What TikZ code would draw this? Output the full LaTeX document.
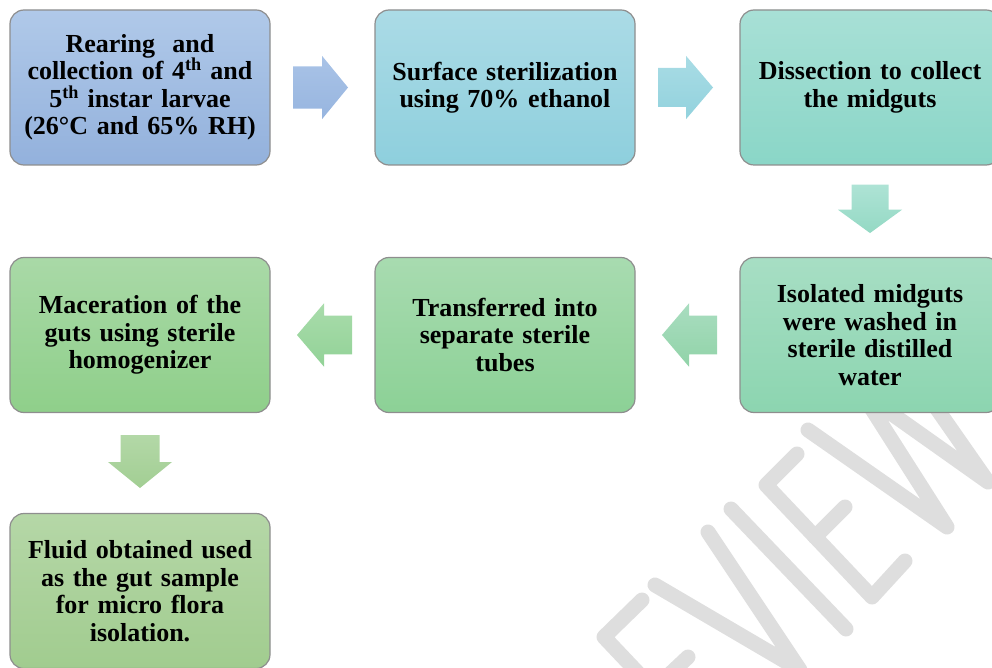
\documentclass[tikz,border=0pt]{standalone}
\usepackage{fontspec}
\setmainfont{Liberation Serif}
\usetikzlibrary{calc}
\definecolor{boxline}{HTML}{8E8E8E}
\definecolor{wmark}{HTML}{DEDEDE}
\definecolor{bat}{HTML}{B0C9E9}\definecolor{bab}{HTML}{93B1DC}
\definecolor{bbt}{HTML}{ABDBE6}\definecolor{bbb}{HTML}{8ECFDD}
\definecolor{bct}{HTML}{A8E0D6}\definecolor{bcb}{HTML}{8AD6C7}
\definecolor{bdt}{HTML}{A7DEC4}\definecolor{bdb}{HTML}{8CD5B0}
\definecolor{bet}{HTML}{A8DBB0}\definecolor{beb}{HTML}{8CD196}
\definecolor{bft}{HTML}{A9D9A7}\definecolor{bfb}{HTML}{8FCF8A}
\definecolor{bgt}{HTML}{B5D7A7}\definecolor{bgb}{HTML}{A1CC8F}
\definecolor{a1t}{HTML}{A9C3E7}\definecolor{a1b}{HTML}{97B5DF}
\definecolor{a2t}{HTML}{A9DCE5}\definecolor{a2b}{HTML}{92D2DD}
\definecolor{a3t}{HTML}{AEE3D5}\definecolor{a3b}{HTML}{94D9C4}
\definecolor{a4t}{HTML}{A9DDC0}\definecolor{a4b}{HTML}{91D3A8}
\definecolor{a5t}{HTML}{A9DCAB}\definecolor{a5b}{HTML}{92D297}
\definecolor{a6t}{HTML}{B3D8A7}\definecolor{a6b}{HTML}{A2CE93}
\tikzset{
  stepbox/.style={rounded corners=14pt, minimum width=260pt, minimum height=155pt,
    draw=boxline, line width=1.2pt, align=center, text width=250pt, inner sep=0pt,
    font=\bfseries\fontsize{26}{27.5}\selectfont},
  wm/.style={draw=wmark, line width=15pt, line cap=round, line join=round},
}
\begin{document}
\begin{tikzpicture}[x=1pt,y=1pt]
\useasboundingbox (0,0) rectangle (992,-668);
\clip (0,0) rectangle (992,-668);
% watermark
\draw[wm] (642,-600) -- (604,-637) -- (710,-749) -- (745,-712);
\draw[wm] (654,-689) -- (688,-657);
\draw[wm] (655,-585) -- (800,-670) -- (708,-532);
\draw[wm] (731,-509) -- (846,-629);
\draw[wm] (797,-454) -- (766,-485) -- (872,-597) -- (905,-561);
\draw[wm] (815,-537) -- (845,-507);
\draw[wm] (808,-430) -- (947,-527) -- (861,-392) -- (988,-482) -- (891,-343);
% boxes
\node[stepbox, top color=bat, bottom color=bab] (b1) at (140,-87.5)
  {Rearing\ \ and\\collection of 4\textsuperscript{th} and\\5\textsuperscript{th} instar larvae\\(26°C and 65\% RH)};
\node[stepbox, top color=bbt, bottom color=bbb] (b2) at (505,-87.5)
  {Surface sterilization\\using 70\% ethanol};
\node[stepbox, top color=bct, bottom color=bcb] (b3) at (870,-87.5)
  {Dissection to collect\\the midguts};
\node[stepbox, top color=bdt, bottom color=bdb] (b4) at (870,-335)
  {Isolated midguts\\were washed in\\sterile distilled\\water};
\node[stepbox, top color=bet, bottom color=beb] (b5) at (505,-335)
  {Transferred into\\separate sterile\\tubes};
\node[stepbox, top color=bft, bottom color=bfb] (b6) at (140,-335)
  {Maceration of the\\guts using sterile\\homogenizer};
\node[stepbox, top color=bgt, bottom color=bgb] (b7) at (140,-591)
  {Fluid obtained used\\as the gut sample\\for micro flora\\isolation.};
% arrow anchors
\coordinate (m12) at ($(b1.east)!0.5!(b2.west)$);
\coordinate (m23) at ($(b2.east)!0.5!(b3.west)$);
\coordinate (m34) at ($(b3.south)!0.5!(b4.north)$);
\coordinate (m45) at ($(b4.west)!0.5!(b5.east)$);
\coordinate (m56) at ($(b5.west)!0.5!(b6.east)$);
\coordinate (m67) at ($(b6.south)!0.5!(b7.north)$);
% right arrows
\shade[top color=a1t, bottom color=a1b, shift={(m12)}]
  (-29.5,21.2) -- (-0.5,21.2) -- (-0.5,31.7) -- (25.5,0) -- (-0.5,-31.7) -- (-0.5,-21.2) -- (-29.5,-21.2) -- cycle;
\shade[top color=a2t, bottom color=a2b, shift={(m23)}]
  (-29.5,19.5) -- (-1.5,19.5) -- (-1.5,31.7) -- (25.5,0) -- (-1.5,-31.7) -- (-1.5,-19.5) -- (-29.5,-19.5) -- cycle;
% down arrows
\shade[top color=a3t, bottom color=a3b, shift={(m34)}]
  (-18.5,26.5) -- (18.5,26.5) -- (18.5,1.5) -- (32,1.5) -- (0,-21.8) -- (-32,1.5) -- (-18.5,1.5) -- cycle;
\shade[top color=a6t, bottom color=a6b, shift={(m67)}]
  (-19.5,28) -- (19.5,28) -- (19.5,1) -- (32,1) -- (0,-25) -- (-32,1) -- (-19.5,1) -- cycle;
% left arrows
\shade[top color=a4t, bottom color=a4b, shift={(m45)}]
  (29.5,19.3) -- (1.5,19.3) -- (1.5,31.7) -- (-25.5,0) -- (1.5,-31.7) -- (1.5,-19.3) -- (29.5,-19.3) -- cycle;
\shade[top color=a5t, bottom color=a5b, shift={(m56)}]
  (29.5,19.3) -- (1.5,19.3) -- (1.5,31.7) -- (-25.5,0) -- (1.5,-31.7) -- (1.5,-19.3) -- (29.5,-19.3) -- cycle;
\end{tikzpicture}
\end{document}
